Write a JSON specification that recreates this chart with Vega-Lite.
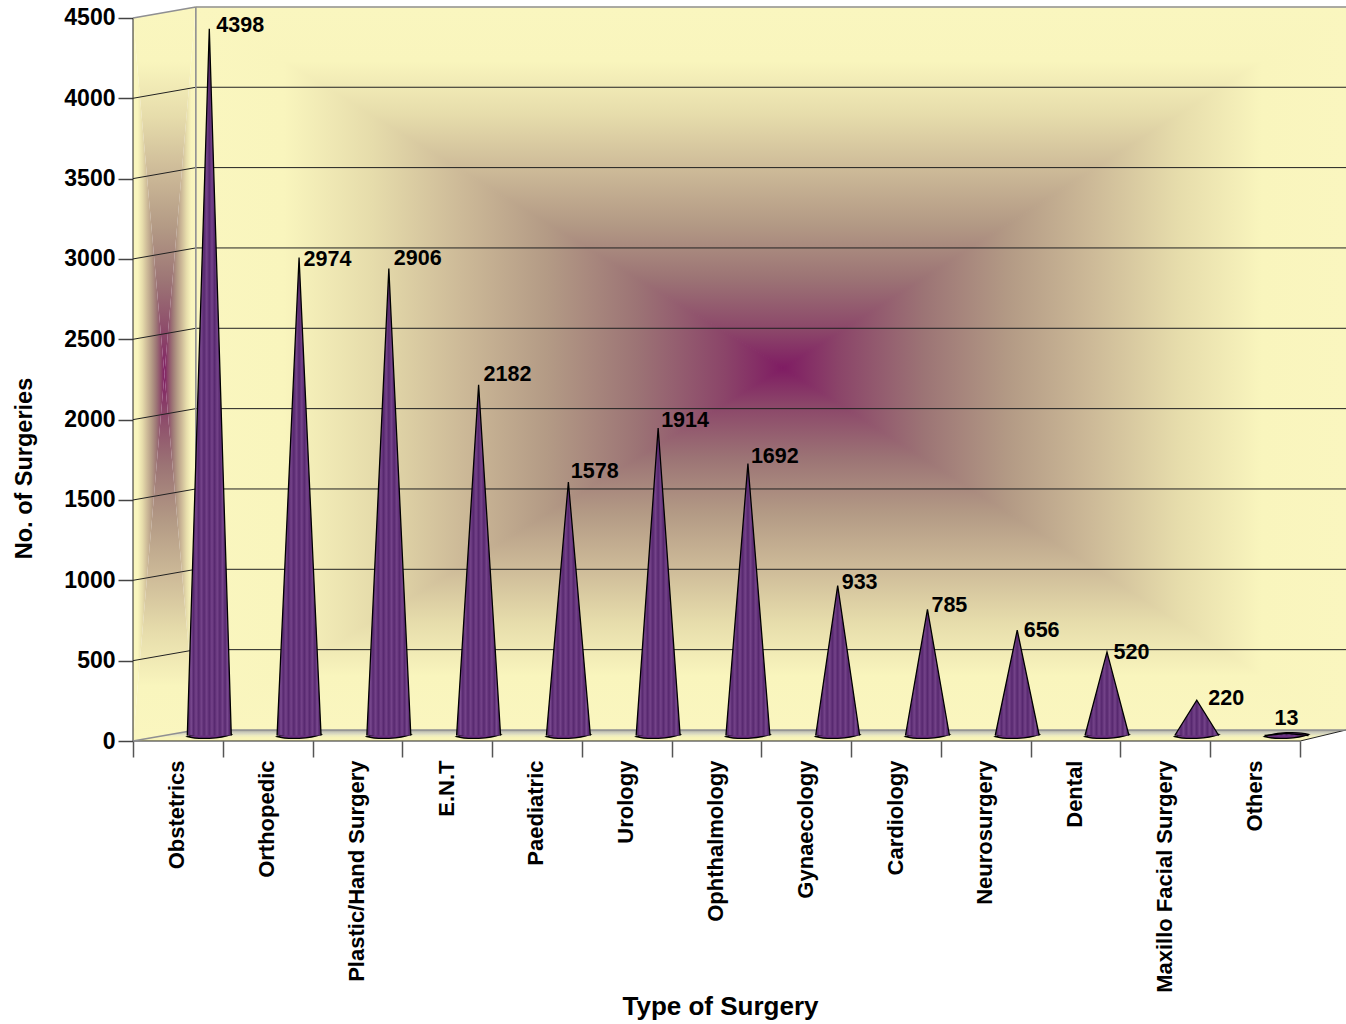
{"$schema":"https://vega.github.io/schema/vega-lite/v6.json","width":1213,"height":734,"autosize":{"type":"none"},"padding":{"left":133,"top":7,"right":0,"bottom":283},"background":"white","config":{"view":{"stroke":null},"font":"Liberation Sans"},"resolve":{"scale":{"x":"independent"}},"layer":[{"encoding":{"x":{"field":"u","type":"quantitative","scale":{"domain":[0,13.51],"nice":false,"zero":false},"axis":null},"y":{"field":"hi","type":"quantitative","stack":null,"scale":{"domain":[0,4568],"nice":false},"axis":{"title":"No. of Surgeries","format":"d","values":[0,500,1000,1500,2000,2500,3000,3500,4000,4500],"domain":false,"grid":false,"tickSize":15,"tickColor":"#444","tickWidth":1.5,"labelPadding":3,"labelFont":"Liberation Sans","labelFontWeight":"bold","labelFontSize":23,"labelColor":"#000","titleFont":"Liberation Sans","titleFontWeight":"bold","titleFontSize":23.5,"titleColor":"#000","titleX":-109,"titleY":461,"titleAngle":-90,"titleAlign":"center","titleBaseline":"middle"}},"y2":{"field":"lo"}},"layer":[{"data":{"values":[{"u":0.7,"hi":4568,"lo":4568},{"u":7.24,"hi":4568,"lo":2321},{"u":13.51,"hi":4568,"lo":4568}]},"mark":{"type":"area","strokeWidth":1.2,"color":{"gradient":"linear","x1":0,"y1":0,"x2":0,"y2":1,"stops":[{"offset":0,"color":"#FAF6BF"},{"offset":0.15,"color":"#F9F5BD"},{"offset":0.3,"color":"#E6DCAB"},{"offset":0.45,"color":"#CDBA98"},{"offset":0.6,"color":"#B39A85"},{"offset":0.75,"color":"#9C7475"},{"offset":0.9,"color":"#8B4569"},{"offset":1,"color":"#7F1C63"}]},"stroke":{"gradient":"linear","x1":0,"y1":0,"x2":0,"y2":1,"stops":[{"offset":0,"color":"#FAF6BF"},{"offset":0.15,"color":"#F9F5BD"},{"offset":0.3,"color":"#E6DCAB"},{"offset":0.45,"color":"#CDBA98"},{"offset":0.6,"color":"#B39A85"},{"offset":0.75,"color":"#9C7475"},{"offset":0.9,"color":"#8B4569"},{"offset":1,"color":"#7F1C63"}]}}},{"data":{"values":[{"u":0.7,"hi":68.5,"lo":68.5},{"u":7.24,"hi":2321,"lo":68.5},{"u":13.51,"hi":68.5,"lo":68.5}]},"mark":{"type":"area","strokeWidth":1.2,"color":{"gradient":"linear","x1":0,"y1":1,"x2":0,"y2":0,"stops":[{"offset":0,"color":"#FAF6BF"},{"offset":0.15,"color":"#F9F5BD"},{"offset":0.3,"color":"#E6DCAB"},{"offset":0.45,"color":"#CDBA98"},{"offset":0.6,"color":"#B39A85"},{"offset":0.75,"color":"#9C7475"},{"offset":0.9,"color":"#8B4569"},{"offset":1,"color":"#7F1C63"}]},"stroke":{"gradient":"linear","x1":0,"y1":1,"x2":0,"y2":0,"stops":[{"offset":0,"color":"#FAF6BF"},{"offset":0.15,"color":"#F9F5BD"},{"offset":0.3,"color":"#E6DCAB"},{"offset":0.45,"color":"#CDBA98"},{"offset":0.6,"color":"#B39A85"},{"offset":0.75,"color":"#9C7475"},{"offset":0.9,"color":"#8B4569"},{"offset":1,"color":"#7F1C63"}]}}},{"data":{"values":[{"u":0.7,"hi":4568,"lo":68.5},{"u":7.24,"hi":2321,"lo":2321}]},"mark":{"type":"area","strokeWidth":1.2,"color":{"gradient":"linear","x1":0,"y1":0,"x2":1,"y2":0,"stops":[{"offset":0,"color":"#FAF6BF"},{"offset":0.15,"color":"#F9F5BD"},{"offset":0.3,"color":"#E6DCAB"},{"offset":0.45,"color":"#CDBA98"},{"offset":0.6,"color":"#B39A85"},{"offset":0.75,"color":"#9C7475"},{"offset":0.9,"color":"#8B4569"},{"offset":1,"color":"#7F1C63"}]},"stroke":{"gradient":"linear","x1":0,"y1":0,"x2":1,"y2":0,"stops":[{"offset":0,"color":"#FAF6BF"},{"offset":0.15,"color":"#F9F5BD"},{"offset":0.3,"color":"#E6DCAB"},{"offset":0.45,"color":"#CDBA98"},{"offset":0.6,"color":"#B39A85"},{"offset":0.75,"color":"#9C7475"},{"offset":0.9,"color":"#8B4569"},{"offset":1,"color":"#7F1C63"}]}}},{"data":{"values":[{"u":7.24,"hi":2321,"lo":2321},{"u":13.51,"hi":4568,"lo":68.5}]},"mark":{"type":"area","strokeWidth":1.2,"color":{"gradient":"linear","x1":1,"y1":0,"x2":0,"y2":0,"stops":[{"offset":0,"color":"#FAF6BF"},{"offset":0.15,"color":"#F9F5BD"},{"offset":0.3,"color":"#E6DCAB"},{"offset":0.45,"color":"#CDBA98"},{"offset":0.6,"color":"#B39A85"},{"offset":0.75,"color":"#9C7475"},{"offset":0.9,"color":"#8B4569"},{"offset":1,"color":"#7F1C63"}]},"stroke":{"gradient":"linear","x1":1,"y1":0,"x2":0,"y2":0,"stops":[{"offset":0,"color":"#FAF6BF"},{"offset":0.15,"color":"#F9F5BD"},{"offset":0.3,"color":"#E6DCAB"},{"offset":0.45,"color":"#CDBA98"},{"offset":0.6,"color":"#B39A85"},{"offset":0.75,"color":"#9C7475"},{"offset":0.9,"color":"#8B4569"},{"offset":1,"color":"#7F1C63"}]}}},{"data":{"values":[{"u":0,"hi":4500,"lo":4500},{"u":0.35,"hi":4534,"lo":2284},{"u":0.7,"hi":4568,"lo":4568}]},"mark":{"type":"area","color":{"gradient":"linear","x1":0,"y1":0,"x2":0,"y2":1,"stops":[{"offset":0,"color":"#FAF6BF"},{"offset":0.15,"color":"#F9F5BD"},{"offset":0.3,"color":"#E6DCAB"},{"offset":0.45,"color":"#CDBA98"},{"offset":0.6,"color":"#B39A85"},{"offset":0.75,"color":"#9C7475"},{"offset":0.9,"color":"#8B4569"},{"offset":1,"color":"#7F1C63"}]}}},{"data":{"values":[{"u":0,"hi":0,"lo":0},{"u":0.35,"hi":2284,"lo":34},{"u":0.7,"hi":68.5,"lo":68.5}]},"mark":{"type":"area","color":{"gradient":"linear","x1":0,"y1":1,"x2":0,"y2":0,"stops":[{"offset":0,"color":"#FAF6BF"},{"offset":0.15,"color":"#F9F5BD"},{"offset":0.3,"color":"#E6DCAB"},{"offset":0.45,"color":"#CDBA98"},{"offset":0.6,"color":"#B39A85"},{"offset":0.75,"color":"#9C7475"},{"offset":0.9,"color":"#8B4569"},{"offset":1,"color":"#7F1C63"}]}}},{"data":{"values":[{"u":0,"hi":4500,"lo":0},{"u":0.35,"hi":2284,"lo":2284}]},"mark":{"type":"area","color":{"gradient":"linear","x1":0,"y1":0,"x2":1,"y2":0,"stops":[{"offset":0,"color":"#FAF6BF"},{"offset":0.15,"color":"#F9F5BD"},{"offset":0.3,"color":"#E6DCAB"},{"offset":0.45,"color":"#CDBA98"},{"offset":0.6,"color":"#B39A85"},{"offset":0.75,"color":"#9C7475"},{"offset":0.9,"color":"#8B4569"},{"offset":1,"color":"#7F1C63"}]}}},{"data":{"values":[{"u":0.35,"hi":2284,"lo":2284},{"u":0.7,"hi":4568,"lo":68.5}]},"mark":{"type":"area","color":{"gradient":"linear","x1":1,"y1":0,"x2":0,"y2":0,"stops":[{"offset":0,"color":"#FAF6BF"},{"offset":0.15,"color":"#F9F5BD"},{"offset":0.3,"color":"#E6DCAB"},{"offset":0.45,"color":"#CDBA98"},{"offset":0.6,"color":"#B39A85"},{"offset":0.75,"color":"#9C7475"},{"offset":0.9,"color":"#8B4569"},{"offset":1,"color":"#7F1C63"}]}}},{"data":{"values":[{"u":0,"hi":0,"lo":0},{"u":0.7,"hi":68.5,"lo":0},{"u":13,"hi":68.5,"lo":0},{"u":13.51,"hi":68.5,"lo":68.5}]},"mark":{"type":"area","color":{"gradient":"linear","x1":0,"y1":0,"x2":0,"y2":1,"stops":[{"offset":0,"color":"#A5A59A"},{"offset":0.25,"color":"#CFCFBF"},{"offset":0.5,"color":"#ECEBC0"},{"offset":0.7,"color":"#F8F4B8"},{"offset":1,"color":"#F8F4B8"}]}}},{"data":{"values":[{"hi":500,"lo":568.5,"u":0,"b":0.7},{"hi":1000,"lo":1068.5,"u":0,"b":0.7},{"hi":1500,"lo":1568.5,"u":0,"b":0.7},{"hi":2000,"lo":2068.5,"u":0,"b":0.7},{"hi":2500,"lo":2568.5,"u":0,"b":0.7},{"hi":3000,"lo":3068.5,"u":0,"b":0.7},{"hi":3500,"lo":3568.5,"u":0,"b":0.7},{"hi":4000,"lo":4068.5,"u":0,"b":0.7},{"hi":568.5,"lo":568.5,"u":0.7,"b":13.51},{"hi":1068.5,"lo":1068.5,"u":0.7,"b":13.51},{"hi":1568.5,"lo":1568.5,"u":0.7,"b":13.51},{"hi":2068.5,"lo":2068.5,"u":0.7,"b":13.51},{"hi":2568.5,"lo":2568.5,"u":0.7,"b":13.51},{"hi":3068.5,"lo":3068.5,"u":0.7,"b":13.51},{"hi":3568.5,"lo":3568.5,"u":0.7,"b":13.51},{"hi":4068.5,"lo":4068.5,"u":0.7,"b":13.51},{"hi":0,"lo":0,"u":0,"b":13},{"hi":4500,"lo":0,"u":0,"b":0},{"hi":68.5,"lo":0,"u":13.51,"b":13}]},"mark":{"type":"rule","color":"#222","strokeWidth":1},"encoding":{"x2":{"field":"b"}}},{"data":{"values":[{"hi":4568,"lo":4500,"u":0.7,"b":0},{"hi":4568,"lo":4568,"u":0.7,"b":13.51},{"hi":4568,"lo":68.5,"u":0.7,"b":0.7},{"hi":68.5,"lo":0,"u":0.7,"b":0},{"hi":68.5,"lo":68.5,"u":0.7,"b":13.51}]},"mark":{"type":"rule","color":"#8F8F92","strokeWidth":1.6},"encoding":{"x2":{"field":"b"}}}]},{"data":{"values":[{"surgery":"Obstetrics","count":4398,"left":0,"right":0},{"surgery":"Orthopedic","count":2974,"left":0,"right":0},{"surgery":"Plastic/Hand Surgery","count":2906,"left":0,"right":0},{"surgery":"E.N.T","count":2182,"left":0,"right":0},{"surgery":"Paediatric","count":1578,"left":0,"right":0},{"surgery":"Urology","count":1914,"left":0,"right":0},{"surgery":"Ophthalmology","count":1692,"left":0,"right":0},{"surgery":"Gynaecology","count":933,"left":0,"right":0},{"surgery":"Cardiology","count":785,"left":0,"right":0},{"surgery":"Neurosurgery","count":656,"left":0,"right":0},{"surgery":"Dental","count":520,"left":0,"right":0},{"surgery":"Maxillo Facial Surgery","count":220,"left":0,"right":0},{"surgery":"Others","count":13,"left":0,"right":0}]},"encoding":{"x":{"field":"surgery","type":"nominal","sort":null,"scale":{"range":[0,1167],"paddingInner":0,"paddingOuter":0},"axis":{"title":"Type of Surgery","domain":false,"grid":false,"tickBand":"extent","tickSize":16,"tickColor":"#555","tickWidth":1.5,"labelAngle":-90,"labelPadding":3,"labelOffset":-1,"labelFont":"Liberation Sans","labelFontWeight":"bold","labelFontSize":22,"labelColor":"#000","labelOverlap":false,"labelLimit":300,"titleFont":"Liberation Sans","titleFontWeight":"bold","titleFontSize":26,"titleColor":"#000","titleX":587,"titleY":265,"titleBaseline":"middle","titleAnchor":"middle"}}},"layer":[{"mark":{"type":"point","filled":true,"shape":"M-1,0.05 C-0.5,0.19 0.5,0.15 1,-0.05 C0.5,-0.19 -0.5,-0.15 -1,0.05 Z","size":1936,"fill":"#6A2F80","stroke":"#000","strokeWidth":1.3,"opacity":1,"xOffset":31.4,"yOffset":-5.5},"encoding":{"y":{"datum":0,"type":"quantitative","scale":{"domain":[0,4568],"nice":false}}}},{"transform":[{"fold":["left","count","right"],"as":["vertex","v"]}],"encoding":{"xOffset":{"field":"vertex","type":"nominal","sort":["left","count","right"],"scale":{"type":"point","domain":["left","count","right"],"range":[54.3,98.3],"padding":0}},"y":{"field":"v","type":"quantitative","stack":null,"scale":{"domain":[0,4568],"nice":false}},"detail":{"field":"surgery"}},"layer":[{"mark":{"type":"area","yOffset":-5.5,"y2Offset":-5.5,"color":{"gradient":"linear","x1":0,"y1":0,"x2":1,"y2":0,"stops":[{"offset":0,"color":"#4A3A52"},{"offset":0.04,"color":"#57286F"},{"offset":0.09,"color":"#7A4A90"},{"offset":0.14,"color":"#57286F"},{"offset":0.2,"color":"#744389"},{"offset":0.26,"color":"#57286F"},{"offset":0.32,"color":"#744389"},{"offset":0.38,"color":"#57286F"},{"offset":0.44,"color":"#744389"},{"offset":0.5,"color":"#57286F"},{"offset":0.56,"color":"#744389"},{"offset":0.62,"color":"#57286F"},{"offset":0.68,"color":"#744389"},{"offset":0.74,"color":"#57286F"},{"offset":0.8,"color":"#744389"},{"offset":0.86,"color":"#57286F"},{"offset":0.91,"color":"#7A4A90"},{"offset":0.96,"color":"#57286F"},{"offset":1,"color":"#4A3A52"}]}},"encoding":{"y2":{"datum":0}}},{"mark":{"type":"line","color":"#000","strokeWidth":1.3,"yOffset":-5.5}}]},{"transform":[{"filter":{"field":"surgery","oneOf":["Neurosurgery","Dental"]}}],"mark":{"type":"text","align":"left","baseline":"middle","fontWeight":"bold","fontSize":21.5,"font":"Liberation Sans","color":"#000","xOffset":31.4,"yOffset":-5.5,"dx":6.5,"dy":1},"encoding":{"y":{"field":"count","type":"quantitative","scale":{"domain":[0,4568],"nice":false}},"text":{"field":"count","type":"quantitative","format":"d"}}},{"transform":[{"filter":{"field":"surgery","equal":"Orthopedic"}}],"mark":{"type":"text","align":"left","baseline":"middle","fontWeight":"bold","fontSize":21.5,"font":"Liberation Sans","color":"#000","xOffset":31.4,"yOffset":-5.5,"dx":4.5,"dy":2},"encoding":{"y":{"field":"count","type":"quantitative","scale":{"domain":[0,4568],"nice":false}},"text":{"field":"count","type":"quantitative","format":"d"}}},{"transform":[{"filter":{"field":"surgery","equal":"Obstetrics"}}],"mark":{"type":"text","align":"left","baseline":"middle","fontWeight":"bold","fontSize":21.5,"font":"Liberation Sans","color":"#000","xOffset":31.4,"yOffset":-5.5,"dx":7,"dy":-3},"encoding":{"y":{"field":"count","type":"quantitative","scale":{"domain":[0,4568],"nice":false}},"text":{"field":"count","type":"quantitative","format":"d"}}},{"transform":[{"filter":{"field":"surgery","oneOf":["Gynaecology","Cardiology"]}}],"mark":{"type":"text","align":"left","baseline":"middle","fontWeight":"bold","fontSize":21.5,"font":"Liberation Sans","color":"#000","xOffset":31.4,"yOffset":-5.5,"dx":4,"dy":-3},"encoding":{"y":{"field":"count","type":"quantitative","scale":{"domain":[0,4568],"nice":false}},"text":{"field":"count","type":"quantitative","format":"d"}}},{"transform":[{"filter":{"field":"surgery","oneOf":["Urology","Ophthalmology"]}}],"mark":{"type":"text","align":"left","baseline":"middle","fontWeight":"bold","fontSize":21.5,"font":"Liberation Sans","color":"#000","xOffset":31.4,"yOffset":-5.5,"dx":3,"dy":-7},"encoding":{"y":{"field":"count","type":"quantitative","scale":{"domain":[0,4568],"nice":false}},"text":{"field":"count","type":"quantitative","format":"d"}}},{"transform":[{"filter":{"field":"surgery","oneOf":["Plastic/Hand Surgery","E.N.T"]}}],"mark":{"type":"text","align":"left","baseline":"middle","fontWeight":"bold","fontSize":21.5,"font":"Liberation Sans","color":"#000","xOffset":31.4,"yOffset":-5.5,"dx":5,"dy":-9.5},"encoding":{"y":{"field":"count","type":"quantitative","scale":{"domain":[0,4568],"nice":false}},"text":{"field":"count","type":"quantitative","format":"d"}}},{"transform":[{"filter":{"field":"surgery","equal":"Paediatric"}}],"mark":{"type":"text","align":"left","baseline":"middle","fontWeight":"bold","fontSize":21.5,"font":"Liberation Sans","color":"#000","xOffset":31.4,"yOffset":-5.5,"dx":2.5,"dy":-9.5},"encoding":{"y":{"field":"count","type":"quantitative","scale":{"domain":[0,4568],"nice":false}},"text":{"field":"count","type":"quantitative","format":"d"}}},{"transform":[{"filter":{"field":"surgery","equal":"Maxillo Facial Surgery"}}],"mark":{"type":"text","align":"left","baseline":"middle","fontWeight":"bold","fontSize":21.5,"font":"Liberation Sans","color":"#000","xOffset":31.4,"yOffset":-5.5,"dx":11.5,"dy":-1},"encoding":{"y":{"field":"count","type":"quantitative","scale":{"domain":[0,4568],"nice":false}},"text":{"field":"count","type":"quantitative","format":"d"}}},{"transform":[{"filter":{"field":"surgery","equal":"Others"}}],"mark":{"type":"text","align":"center","baseline":"middle","fontWeight":"bold","fontSize":21.5,"font":"Liberation Sans","color":"#000","xOffset":31.4,"yOffset":-5.5,"dx":0,"dy":-14},"encoding":{"y":{"field":"count","type":"quantitative","scale":{"domain":[0,4568],"nice":false}},"text":{"field":"count","type":"quantitative","format":"d"}}}]}]}
